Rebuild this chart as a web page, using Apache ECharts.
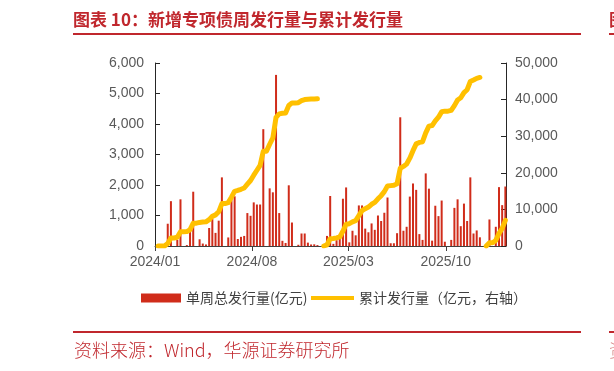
<!DOCTYPE html>
<html>
<head>
<meta charset="utf-8">
<script src="https://cdn.jsdelivr.net/npm/echarts@6/dist/echarts.min.js"></script>
<style>
html,body{margin:0;padding:0;background:#fff;}
#c{width:614px;height:371px;}
</style>
</head>
<body>
<div id="c"></div>
<script>
// Weekly dates (2024-01 .. 2026-02)
const weeks = [
 '2024-01-08','2024-01-15','2024-01-22','2024-01-29','2024-02-05','2024-02-12','2024-02-19','2024-02-26',
 '2024-03-04','2024-03-11','2024-03-18','2024-03-25','2024-04-01','2024-04-08','2024-04-15','2024-04-22','2024-04-29',
 '2024-05-06','2024-05-13','2024-05-20','2024-05-27','2024-06-03','2024-06-10','2024-06-17','2024-06-24',
 '2024-07-01','2024-07-08','2024-07-15','2024-07-22','2024-07-29','2024-08-05','2024-08-12','2024-08-19','2024-08-26',
 '2024-09-02','2024-09-09','2024-09-16','2024-09-23','2024-09-30','2024-10-07','2024-10-14','2024-10-21','2024-10-28',
 '2024-11-04','2024-11-11','2024-11-18','2024-11-25','2024-12-02','2024-12-09','2024-12-16','2024-12-23','2024-12-30',
 '2025-01-06','2025-01-13','2025-01-20','2025-01-27','2025-02-03','2025-02-10','2025-02-17','2025-02-24',
 '2025-03-03','2025-03-10','2025-03-17','2025-03-24','2025-03-31','2025-04-07','2025-04-14','2025-04-21','2025-04-28',
 '2025-05-05','2025-05-12','2025-05-19','2025-05-26','2025-06-02','2025-06-09','2025-06-16','2025-06-23','2025-06-30',
 '2025-07-07','2025-07-14','2025-07-21','2025-07-28','2025-08-04','2025-08-11','2025-08-18','2025-08-25',
 '2025-09-01','2025-09-08','2025-09-15','2025-09-22','2025-09-29','2025-10-06','2025-10-13','2025-10-20','2025-10-27',
 '2025-11-03','2025-11-10','2025-11-17','2025-11-24','2025-12-01','2025-12-08','2025-12-15','2025-12-22','2025-12-29',
 '2026-01-05','2026-01-12','2026-01-19','2026-01-26','2026-02-02','2026-02-09'
];
// 单周总发行量(亿元)
const weeklyIssuance = [
 0,0,0,730,1470,0,200,1530,0,30,
 480,1780,0,220,80,50,590,890,430,830,
 2250,0,280,1500,1630,230,300,330,1080,990,
 1430,1360,1360,3830,0,1890,1760,5610,1080,170,
 100,1990,770,0,40,410,410,110,50,55,
 30,0,0,330,1640,70,190,250,1550,1920,
 120,500,350,1330,1330,570,450,740,530,1000,
 820,1090,1590,90,90,420,4220,500,630,1620,
 2050,1840,390,200,2380,1880,175,1320,980,1490,
 140,0,200,1250,1530,650,1390,820,2250,410,
 510,285,0,0,870,0,630,1930,1340,1950
];
// 累计发行量(亿元，右轴)
const cumulativeIssuance = [
 0,0,0,700,2200,2200,2400,3900,3900,3950,
 4450,6250,6250,6450,6550,6600,7200,8100,8500,9350,
 11600,11600,11850,13350,14950,15200,15500,15850,16900,17900,
 19350,20700,22050,25900,25900,27800,29550,35150,36100,36250,
 36350,38400,39100,39100,39150,39700,40000,40100,40150,40150,
 40200,null,0,330,1970,2050,2230,2480,4050,5950,
 6100,6600,6950,8300,9650,10200,10650,11400,11900,12900,
 13750,14850,16400,16500,16600,17000,21250,21750,22400,24000,
 26050,27900,28300,28500,30900,32750,32900,34200,35200,36700,
 36850,36850,37050,38350,39900,40500,41900,42700,44950,45350,
 45800,46050,null,0,870,900,1530,3450,4800,7000
];
const tickDates = ['2024-01-01','2024-08-01','2025-03-01','2025-10-01'];
const tickLabels = ['2024/01','2024/08','2025/03','2025/10'];
const leftTicks = [0,1000,2000,3000,4000,5000,6000];
const rightTicks = [0,10000,20000,30000,40000,50000];

const DAY = 86400000;
const t0 = Date.parse('2024-01-01');
const toDay = s => Math.round((Date.parse(s) - t0) / DAY);
const xMax = 771.4;
const tickDays = tickDates.map(toDay);
const barData = weeks.map((d, i) => [toDay(d), weeklyIssuance[i]]);
const lineData = weeks.map((d, i) => [toDay(d), cumulativeIssuance[i] === null ? '-' : cumulativeIssuance[i]]);

function fmtThousands(v){ return String(v).replace(/\B(?=(\d{3})+(?!\d))/g, ','); }

const RED = '#C0272D';
const chart = echarts.init(document.getElementById('c'), null, {renderer:'canvas'});
chart.setOption({
  animation: false,
  backgroundColor: '#ffffff',
  grid: {left:155, right:108, top:63, bottom:125, containLabel:false},
  legend: [
    {data:['单周总发行量(亿元)'], left:141, top:291, padding:0, icon:'rect', itemWidth:40, itemHeight:9,
     textStyle:{color:'#404040', fontSize:14, fontFamily:'Noto Sans CJK SC'}},
    {data:['累计发行量（亿元，右轴）'], left:311, top:291, padding:0, icon:'rect', itemWidth:43, itemHeight:4,
     textStyle:{color:'#404040', fontSize:14, fontFamily:'Noto Sans CJK SC'}}
  ],
  xAxis: {
    type:'value', min:0, max:xMax,
    axisLine:{show:true, onZero:false, lineStyle:{color:'#404040', width:1}},
    axisTick:{show:true, customValues:tickDays, length:5, inside:false, lineStyle:{color:'#404040'}},
    axisLabel:{customValues:tickDays, color:'#595959', fontSize:14, margin:9,
      fontFamily:'Liberation Sans, Arial, sans-serif',
      formatter:function(v){
        let best=0, bd=Infinity;
        tickDays.forEach((t,i)=>{const d=Math.abs(t-v); if(d<bd){bd=d;best=i;}});
        return tickLabels[best];
      }},
    splitLine:{show:false}
  },
  yAxis: [
    {type:'value', min:leftTicks[0], max:leftTicks[leftTicks.length-1], interval:1000, position:'left',
     axisLine:{show:true, lineStyle:{color:'#262626', width:1}},
     axisTick:{show:true, inside:true, length:5, lineStyle:{color:'#262626'}},
     axisLabel:{color:'#595959', fontSize:14, margin:11, fontFamily:'Liberation Sans, Arial, sans-serif', formatter:fmtThousands},
     splitLine:{show:false}},
    {type:'value', min:rightTicks[0], max:rightTicks[rightTicks.length-1], interval:10000, position:'right',
     axisLine:{show:true, lineStyle:{color:'#262626', width:1}},
     axisTick:{show:true, inside:true, length:5, lineStyle:{color:'#262626'}},
     axisLabel:{color:'#595959', fontSize:14, margin:9, fontFamily:'Liberation Sans, Arial, sans-serif', formatter:fmtThousands},
     splitLine:{show:false}}
  ],
  series: [
    {name:'单周总发行量(亿元)', type:'bar', data:barData, barWidth:2, yAxisIndex:0,
     itemStyle:{color:'#D02C1A'}, z:2},
    {name:'累计发行量（亿元，右轴）', type:'line', data:lineData, yAxisIndex:1, showSymbol:false, symbol:'none',
     connectNulls:false, lineStyle:{color:'#FFC000', width:5, cap:'round', join:'round'},
     itemStyle:{color:'#FFC000'}, z:3}
  ],
  graphic: [
    {type:'text', left:73, top:11, style:{text:'图表 10：新增专项债周发行量与累计发行量', fill:RED,
      font:'bold 17px "Noto Sans CJK SC"'}},
    {type:'line', shape:{x1:73, y1:34, x2:581, y2:34}, style:{stroke:RED, lineWidth:2}},
    {type:'line', shape:{x1:609, y1:34, x2:640, y2:34}, style:{stroke:RED, lineWidth:2}},
    {type:'text', left:609, top:11, style:{text:'图', fill:RED, font:'bold 17px "Noto Sans CJK SC"'}},
    {type:'line', shape:{x1:73, y1:332, x2:581, y2:332}, style:{stroke:RED, lineWidth:2}},
    {type:'line', shape:{x1:609, y1:332, x2:640, y2:332}, style:{stroke:RED, lineWidth:2}},
    {type:'text', left:74, top:341, style:{text:'资料来源：Wind，华源证券研究所', fill:RED,
      font:'300 18px "Noto Sans CJK SC"'}},
    {type:'text', left:609, top:341, style:{text:'资', fill:'#D88A8A', font:'300 18px "Noto Sans CJK SC"'}}
  ]
});
</script>
</body>
</html>
